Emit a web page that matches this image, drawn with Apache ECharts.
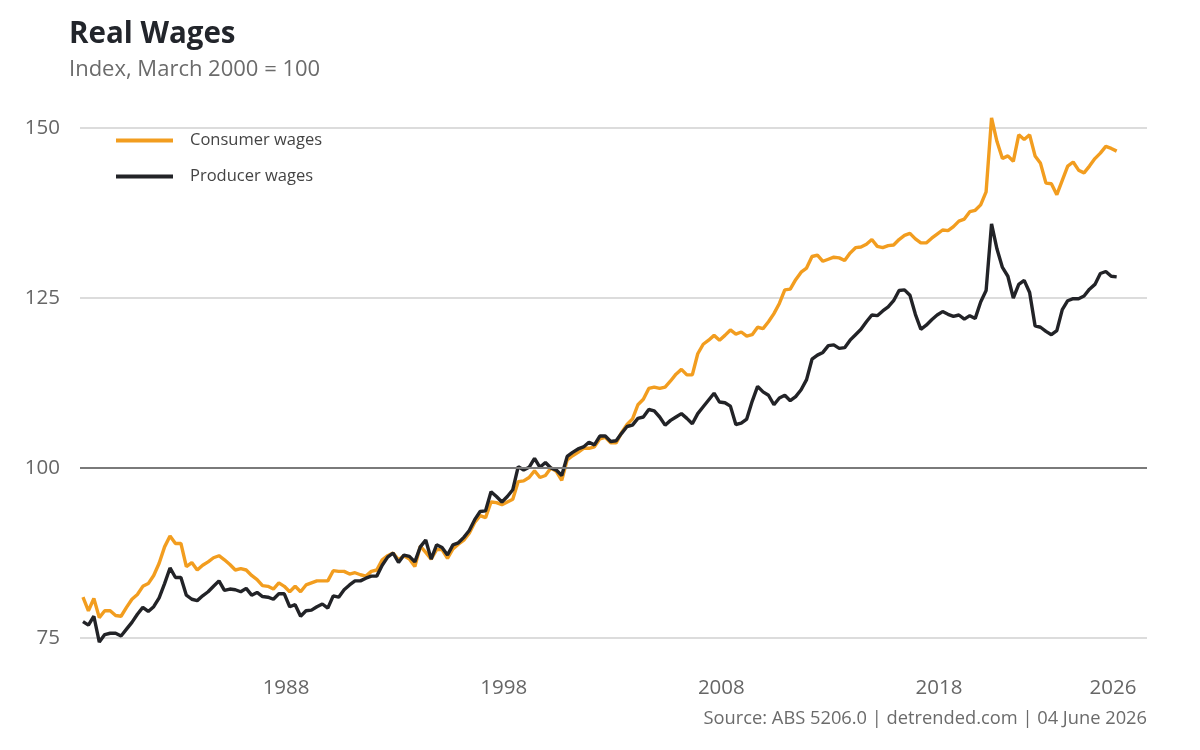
<!DOCTYPE html>
<html>
<head>
<meta charset="utf-8">
<script src="https://cdn.jsdelivr.net/npm/echarts@6/dist/echarts.min.js"></script>
<style>
html,body{margin:0;padding:0;background:#fff;}
#chart{width:1200px;height:750px;}
</style>
</head>
<body>
<div id="chart"></div>
<script>
// Quarterly series, first observation September 1978, last March 2026
const startYear = 1978;
const startMonth = 9;
const consumerWages = [
81.0,79.0,80.8,78.0,79.0,79.0,78.3,78.2,79.5,80.7,81.4,82.6,83.0,84.2,86.0,88.4,90.0,88.9,88.9,85.5,
86.1,85.0,85.7,86.2,86.8,87.1,86.5,85.8,85.0,85.2,85.0,84.2,83.6,82.7,82.6,82.2,83.1,82.6,81.8,82.6,
81.8,82.8,83.1,83.4,83.4,83.4,84.9,84.8,84.8,84.4,84.6,84.3,84.1,84.8,85.0,86.5,87.1,87.5,86.5,87.1,
86.6,85.5,88.5,87.6,86.6,88.0,88.0,86.7,88.1,88.8,89.4,90.4,92.0,93.0,92.7,95.0,94.9,94.6,95.0,95.4,
98.0,98.1,98.6,99.6,98.6,98.9,100.0,99.5,98.2,101.2,101.8,102.3,102.9,102.9,103.1,104.3,104.5,103.7,103.7,105.2,
106.4,107.2,109.3,110.1,111.7,111.9,111.7,111.9,112.8,113.8,114.5,113.7,113.7,116.8,118.2,118.8,119.5,118.8,119.5,120.3,
119.7,120.0,119.4,119.6,120.7,120.5,121.5,122.7,124.2,126.2,126.3,127.7,128.8,129.4,131.1,131.3,130.4,130.7,131.0,130.9,
130.5,131.6,132.4,132.5,132.9,133.6,132.6,132.4,132.7,132.8,133.6,134.2,134.5,133.7,133.1,133.1,133.8,134.4,135.0,134.9,
135.5,136.3,136.6,137.7,137.9,138.7,140.6,151.5,148.0,145.5,145.9,145.1,149.0,148.3,149.0,145.9,144.8,141.9,141.8,140.2,
142.3,144.4,145.0,143.8,143.4,144.4,145.5,146.3,147.3,147.0,146.6
];
const producerWages = [
77.4,76.9,78.2,74.4,75.5,75.7,75.7,75.3,76.3,77.3,78.5,79.5,78.9,79.6,80.9,83.0,85.3,83.9,83.9,81.3,
80.7,80.5,81.2,81.8,82.6,83.4,82.0,82.2,82.1,81.8,82.3,81.3,81.7,81.1,81.0,80.7,81.5,81.5,79.6,79.9,
78.2,79.0,79.1,79.6,80.0,79.4,81.2,81.0,82.1,82.8,83.4,83.4,83.8,84.1,84.1,85.7,86.9,87.5,86.1,87.2,
87.0,86.2,88.4,89.4,86.6,88.7,88.3,87.2,88.7,89.0,89.8,90.8,92.4,93.6,93.7,96.5,95.8,95.0,95.8,96.8,
100.2,99.7,100.1,101.4,100.1,100.8,100.0,99.7,98.9,101.7,102.3,102.8,103.1,103.8,103.4,104.7,104.7,103.9,104.0,105.1,
106.1,106.3,107.3,107.5,108.6,108.4,107.5,106.3,107.0,107.5,108.0,107.3,106.5,108.0,109.0,110.0,111.0,109.7,109.6,109.1,
106.4,106.6,107.2,109.8,112.0,111.2,110.7,109.3,110.3,110.7,109.9,110.5,111.5,113.0,116.0,116.6,117.0,118.0,118.1,117.6,
117.7,118.8,119.6,120.4,121.5,122.5,122.4,123.1,123.7,124.6,126.1,126.2,125.4,122.6,120.4,121.0,121.8,122.5,123.0,122.6,
122.3,122.5,121.9,122.4,122.0,124.4,126.1,135.9,132.2,129.5,128.2,125.0,127.0,127.6,125.8,120.9,120.7,120.1,119.6,120.2,
123.3,124.6,124.9,124.9,125.3,126.3,127.0,128.6,128.9,128.2,128.1
];
const yearTicks = [1988, 1998, 2008, 2018, 2026];

// decimal-year dates for each quarter
const dates = consumerWages.map((_, i) => {
  const m0 = (startMonth - 1) + 3 * i;
  const y = startYear + Math.floor(m0 / 12);
  const m = m0 % 12;
  return y + m / 12;
});
const consumerData = dates.map((d, i) => [d, consumerWages[i]]);
const producerData = dates.map((d, i) => [d, producerWages[i]]);

const FONT = 'Open Sans';
const chart = echarts.init(document.getElementById('chart'), null, {renderer: 'canvas'});
chart.setOption({
  animation: false,
  backgroundColor: '#ffffff',
  textStyle: {fontFamily: FONT},
  title: [
    {text: 'Real Wages', left: 64, top: 15, padding: 5,
     textStyle: {fontSize: 29.5, fontWeight: 'bold', color: '#22252b', fontFamily: FONT}},
    {text: 'Index, March 2000 = 100', left: 64, top: 54, padding: 5,
     textStyle: {fontSize: 22, fontWeight: 'normal', color: '#6b6b6b', fontFamily: FONT}},
    {text: 'Source: ABS 5206.0 | detrended.com | 04 June 2026', right: 48, top: 705, padding: 5,
     textStyle: {fontSize: 18.3, fontWeight: 'normal', color: '#6b6b6b', fontFamily: FONT}}
  ],
  legend: {
    orient: 'vertical', left: 116, top: 132, padding: 0, itemWidth: 57, itemHeight: 4, itemGap: 19,
    icon: 'rect',
    textStyle: {fontSize: 16.5, color: '#444', fontFamily: FONT, padding: [0, 0, 0, 12]},
    data: ['Consumer wages', 'Producer wages']
  },
  grid: {left: 80, right: 53, top: 128, bottom: 112, containLabel: false},
  xAxis: {
    type: 'value', min: 1978.53, max: 2027.56,
    axisLine: {show: false}, axisTick: {show: false}, splitLine: {show: false},
    axisLabel: {customValues: yearTicks, margin: 40, fontSize: 20.5, color: '#666', fontFamily: FONT,
      formatter: v => String(Math.round(v))}
  },
  yAxis: {
    type: 'value', min: 75, max: 150, interval: 25,
    axisLine: {show: false}, axisTick: {show: false},
    axisLabel: {margin: 20, fontSize: 20.5, color: '#666', fontFamily: FONT},
    splitLine: {show: true, lineStyle: {color: '#dcdcdc', width: 2}}
  },
  series: [
    {name: 'baseline', type: 'line', data: [], z: 1, silent: true,
     markLine: {silent: true, symbol: 'none', label: {show: false},
       lineStyle: {color: '#7a7a7a', width: 2, type: 'solid'},
       data: [{yAxis: 100}]}},
    {name: 'Consumer wages', type: 'line', data: consumerData, showSymbol: false, clip: false, z: 3,
     color: '#f29d1f', lineStyle: {width: 3.4, color: '#f29d1f'}},
    {name: 'Producer wages', type: 'line', data: producerData, showSymbol: false, clip: false, z: 4,
     color: '#222327', lineStyle: {width: 3.4, color: '#222327'}}
  ]
});
</script>
</body>
</html>
